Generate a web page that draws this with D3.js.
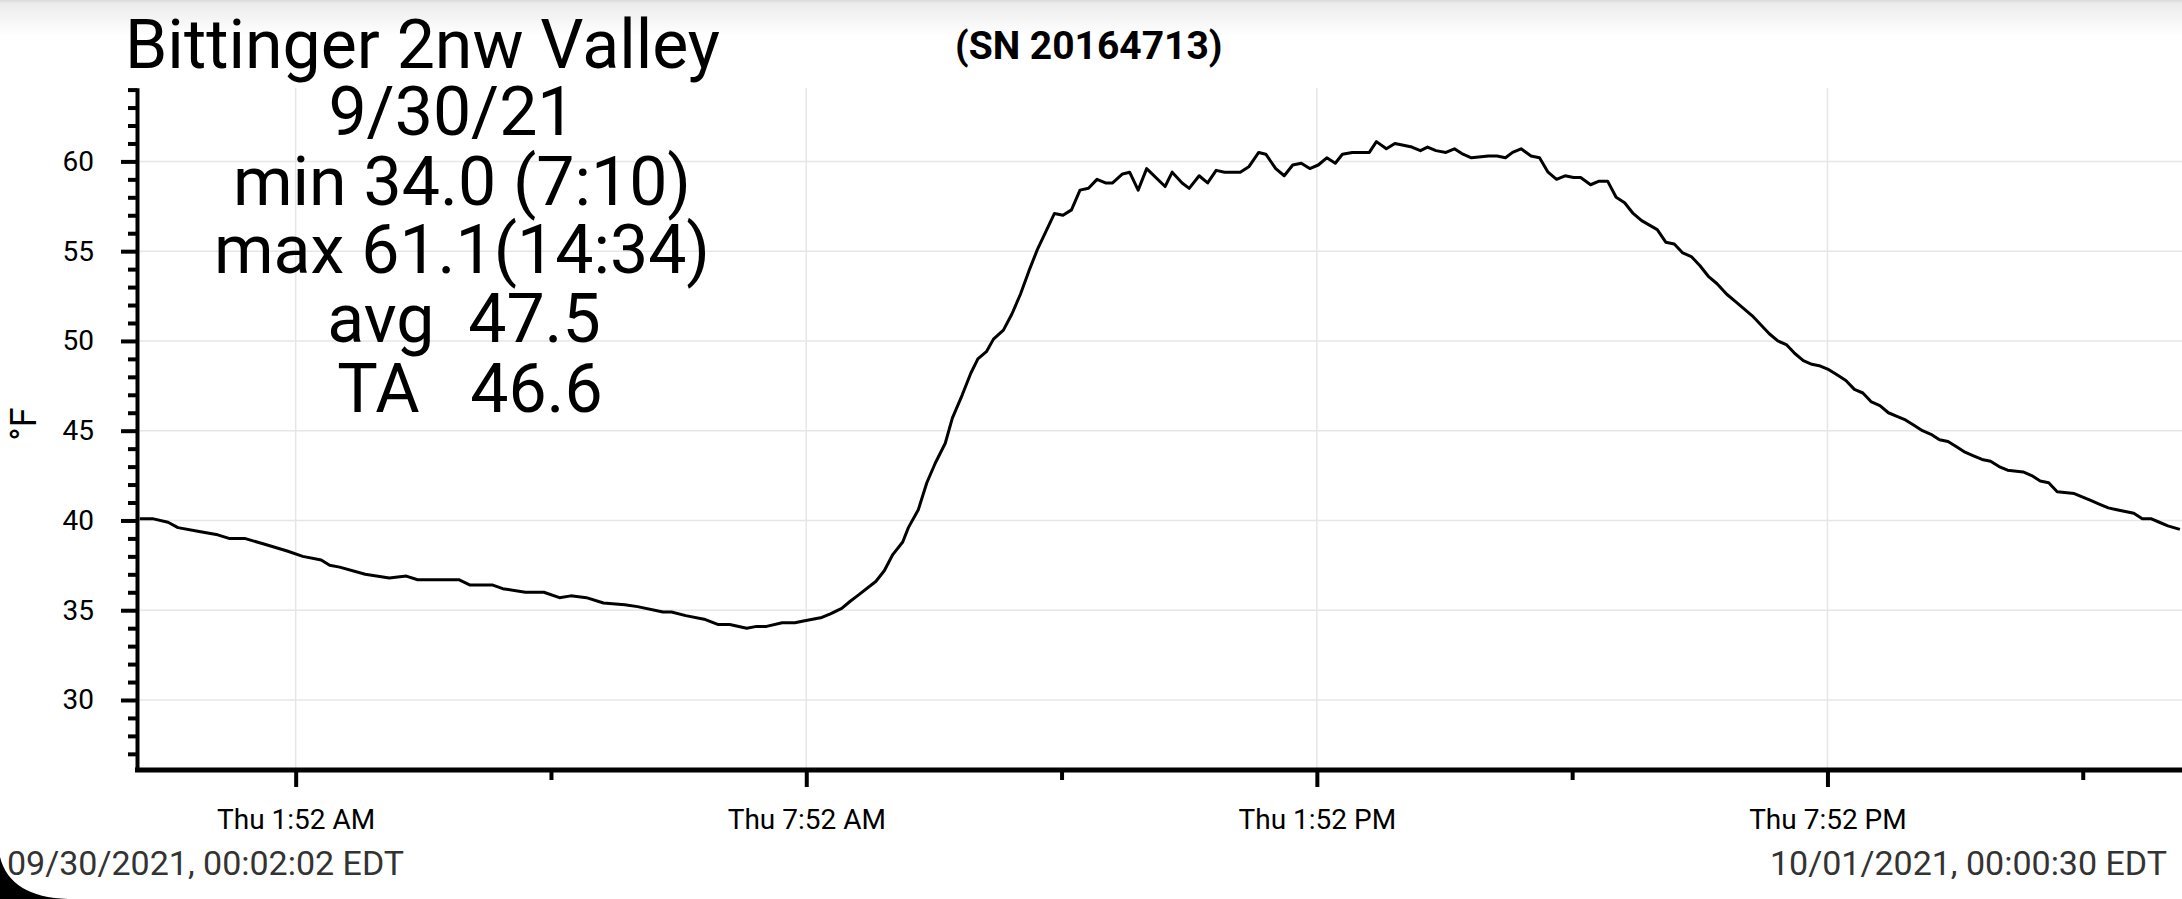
<!DOCTYPE html>
<html>
<head>
<meta charset="utf-8">
<script src="https://cdn.jsdelivr.net/npm/d3@7"></script>
<style>
  html, body { margin: 0; padding: 0; background: #fff; }
  svg { display: block; font-family: Roboto, "Noto Sans", sans-serif; }
</style>
</head>
<body>
<div id="chart"></div>
<script>
// logger readings, 9/30/21 (times of day, "24:00:30" = next midnight)
const times = [
  "00:02:02","00:11","00:22","00:29","00:43","00:57","01:05","01:16","01:29","01:46",
  "01:57","02:10","02:16","02:23","02:41","02:58","03:10","03:18","03:29","03:47",
  "03:55","04:11","04:18","04:34","04:47","04:58","05:06","05:17","05:29","05:44",
  "05:53","06:11","06:17","06:27","06:40","06:50","06:58","07:10","07:17","07:24",
  "07:35","07:44","07:50","08:03","08:09","08:17","08:23","08:28","08:41","08:47",
  "08:53","09:00","09:04","09:11","09:17","09:23","09:30","09:35","09:42","09:48",
  "09:53","09:59","10:04","10:11","10:17","10:23","10:29","10:35","10:41","10:47",
  "10:53","10:59","11:05","11:11","11:17","11:23","11:28","11:35","11:40","11:46",
  "11:52","12:05","12:10","12:17","12:22","12:29","12:35","12:41","12:47","12:58",
  "13:04","13:11","13:16","13:23","13:29","13:35","13:41","13:47","13:53","13:59",
  "14:05","14:10","14:17","14:29","14:34","14:41","14:47","14:53","14:59","15:05",
  "15:10","15:16","15:23","15:29","15:35","15:41","15:53","15:59","16:05","16:10",
  "16:16","16:23","16:29","16:35","16:41","16:47","16:53","16:58","17:05","17:11",
  "17:17","17:23","17:29","17:35","17:41","17:52","17:58","18:04","18:10","18:16",
  "18:22","18:28","18:34","18:41","18:47","18:53","18:59","19:05","19:11","19:17",
  "19:23","19:29","19:35","19:41","19:47","19:53","19:59","20:05","20:11","20:17",
  "20:23","20:29","20:35","20:41","20:47","20:53","20:59","21:05","21:11","21:17",
  "21:23","21:29","21:35","21:41","21:47","21:53","21:59","22:10","22:16","22:22",
  "22:28","22:34","22:46","22:52","22:58","23:04","23:10","23:16","23:28","23:34",
  "23:40","23:46","23:52","24:00:30"
];
const temps = [
  40.1,40.1,39.9,39.6,39.4,39.2,39.0,39.0,38.7,38.3,
  38.0,37.8,37.5,37.4,37.0,36.8,36.9,36.7,36.7,36.7,
  36.4,36.4,36.2,36.0,36.0,35.7,35.8,35.7,35.4,35.3,
  35.2,34.9,34.9,34.7,34.5,34.2,34.2,34.0,34.1,34.1,
  34.3,34.3,34.4,34.6,34.8,35.1,35.5,35.8,36.6,37.2,
  38.1,38.8,39.6,40.6,42.1,43.2,44.3,45.7,47.0,48.2,
  49.0,49.4,50.1,50.6,51.5,52.6,53.9,55.1,56.1,57.1,
  57.0,57.3,58.4,58.5,59.0,58.8,58.8,59.3,59.4,58.4,
  59.6,58.6,59.4,58.8,58.5,59.2,58.8,59.5,59.4,59.4,
  59.7,60.5,60.4,59.6,59.2,59.8,59.9,59.6,59.8,60.2,
  59.9,60.4,60.5,60.5,61.1,60.7,61.0,60.9,60.8,60.6,
  60.8,60.6,60.5,60.7,60.4,60.2,60.3,60.3,60.2,60.5,
  60.7,60.3,60.2,59.4,59.0,59.2,59.1,59.1,58.7,58.9,
  58.9,58.0,57.7,57.1,56.7,56.2,55.5,55.4,54.9,54.7,
  54.2,53.6,53.2,52.6,52.2,51.8,51.4,50.9,50.4,50.0,
  49.8,49.3,48.9,48.7,48.6,48.4,48.1,47.8,47.3,47.1,
  46.6,46.4,46.0,45.8,45.6,45.3,45.0,44.8,44.5,44.4,
  44.1,43.8,43.6,43.4,43.3,43.0,42.8,42.7,42.5,42.2,
  42.1,41.6,41.5,41.3,41.1,40.9,40.7,40.6,40.4,40.1,
  40.1,39.9,39.7,39.5
];

const xMajorTicks = ["01:52","07:52","13:52","19:52"];
const xMinorTicks = ["04:52","10:52","16:52","22:52"];
const yMajorTicks = [30, 35, 40, 45, 50, 55, 60];
const yDomain = [26.1, 64.1];
const timeDomain = ["00:02:02", "24:00:30"];

const title = "Bittinger 2nw Valley";
const serial = "(SN 20164713)";
const statLines = ["9/30/21", "min 34.0 (7:10)", "max 61.1(14:34)", "avg  47.5", "TA   46.6"];
const startStamp = "09/30/2021, 00:02:02 EDT";
const endStamp = "10/01/2021, 00:00:30 EDT";
const yLabel = "°F";

// "HH:MM[:SS]" -> Date on 2021-09-30 (UTC so the labels don't depend on the machine)
function toDate(s) {
  const p = s.split(":").map(Number);
  return new Date(Date.UTC(2021, 8, 30, 0, 0, 0) + ((p[0] * 60 + p[1]) * 60 + (p[2] || 0)) * 1000);
}

const W = 2182, H = 899;
const axisX = 137, axisY = 770;

const svg = d3.select("#chart").append("svg")
  .attr("width", W).attr("height", H);

// top shadow strip
const grad = svg.append("defs").append("linearGradient")
  .attr("id", "topShade").attr("x1", 0).attr("y1", 0).attr("x2", 0).attr("y2", 1);
grad.append("stop").attr("offset", "0%").attr("stop-color", "#d9d9d9");
grad.append("stop").attr("offset", "10%").attr("stop-color", "#ececec");
grad.append("stop").attr("offset", "100%").attr("stop-color", "#ffffff");
svg.append("rect").attr("x", 0).attr("y", 0).attr("width", W).attr("height", 36)
  .attr("fill", "url(#topShade)");

const x = d3.scaleUtc()
  .domain(timeDomain.map(toDate))
  .range([139.7, 2179.9]);

const y = d3.scaleLinear()
  .domain(yDomain)
  .range([axisY, 87.8]);

const data = times.map((t, i) => ({ t: toDate(t), v: temps[i] }));

// grid
svg.append("g")
  .selectAll("line")
  .data(yMajorTicks)
  .join("line")
  .attr("x1", axisX).attr("x2", W)
  .attr("y1", d => y(d)).attr("y2", d => y(d))
  .attr("stroke", "#e6e6e6").attr("stroke-width", 1.5);

svg.append("g")
  .selectAll("line")
  .data(xMajorTicks.map(toDate))
  .join("line")
  .attr("x1", d => x(d)).attr("x2", d => x(d))
  .attr("y1", y(yDomain[1])).attr("y2", axisY)
  .attr("stroke", "#e6e6e6").attr("stroke-width", 1.5);

// y axis: minor ticks every degree, labelled every five
const yMinor = d3.range(27, 65).filter(v => v % 5 !== 0);
svg.append("g")
  .attr("transform", `translate(${axisX},0)`)
  .call(d3.axisLeft(y).tickValues(yMinor).tickSize(9).tickFormat(""))
  .call(g => g.select(".domain").remove())
  .call(g => g.selectAll("line").attr("stroke", "#000").attr("stroke-width", 4));

svg.append("g")
  .attr("transform", `translate(${axisX},0)`)
  .call(d3.axisLeft(y).tickValues(yMajorTicks).tickSize(16).tickPadding(27).tickSizeOuter(0))
  .call(g => g.select(".domain").attr("stroke", "#000").attr("stroke-width", 4))
  .call(g => g.selectAll("line").attr("stroke", "#000").attr("stroke-width", 4))
  .call(g => g.selectAll("text").attr("font-size", 28).attr("fill", "#000")
    .attr("font-family", "Roboto"));

// x axis
const fmt = d3.utcFormat("%a %-I:%M %p");
svg.append("g")
  .attr("transform", `translate(0,${axisY})`)
  .call(d3.axisBottom(x).tickValues(xMinorTicks.map(toDate)).tickSize(10).tickFormat(""))
  .call(g => g.select(".domain").remove())
  .call(g => g.selectAll("line").attr("stroke", "#000").attr("stroke-width", 4));

svg.append("g")
  .attr("transform", `translate(0,${axisY})`)
  .call(d3.axisBottom(x).tickValues(xMajorTicks.map(toDate)).tickSize(17).tickPadding(22)
    .tickFormat(fmt).tickSizeOuter(0))
  .call(g => g.select(".domain").attr("d", `M${axisX - 2},0H${W}`)
    .attr("stroke", "#000").attr("stroke-width", 5))
  .call(g => g.selectAll("line").attr("stroke", "#000").attr("stroke-width", 4))
  .call(g => g.selectAll("text").attr("font-size", 28).attr("fill", "#000")
    .attr("font-family", "Roboto"));

// temperature line
svg.append("path")
  .datum(data)
  .attr("fill", "none")
  .attr("stroke", "#000")
  .attr("stroke-width", 3)
  .attr("stroke-linejoin", "round")
  .attr("d", d3.line().x(d => x(d.t)).y(d => y(d.v)));

// y label
svg.append("text")
  .attr("transform", "translate(36,424) rotate(-90)")
  .attr("text-anchor", "middle")
  .attr("font-size", 36)
  .text(yLabel);

// header texts
svg.append("text")
  .attr("x", 125).attr("y", 68)
  .attr("font-size", 68)
  .text(title);

svg.append("text")
  .attr("x", 955).attr("y", 59)
  .attr("font-size", 39).attr("font-weight", "bold")
  .text(serial);

const statX = [452, 462, 462, 464, 470];
const statY = [135, 205, 273, 342, 412];
svg.append("g")
  .selectAll("text")
  .data(statLines)
  .join("text")
  .attr("x", (d, i) => statX[i]).attr("y", (d, i) => statY[i])
  .attr("text-anchor", "middle")
  .attr("font-size", 68)
  .style("white-space", "pre")
  .text(d => d);

// timestamps along the bottom
svg.append("text")
  .attr("x", 7).attr("y", 875)
  .attr("font-size", 34).attr("fill", "#333")
  .text(startStamp);

svg.append("text")
  .attr("x", 2167).attr("y", 875)
  .attr("text-anchor", "end")
  .attr("font-size", 34).attr("fill", "#333")
  .text(endStamp);

// screen corner
svg.append("path")
  .attr("d", "M0,857 Q10,897 68,899 L0,899 Z")
  .attr("fill", "#000");
</script>
</body>
</html>
